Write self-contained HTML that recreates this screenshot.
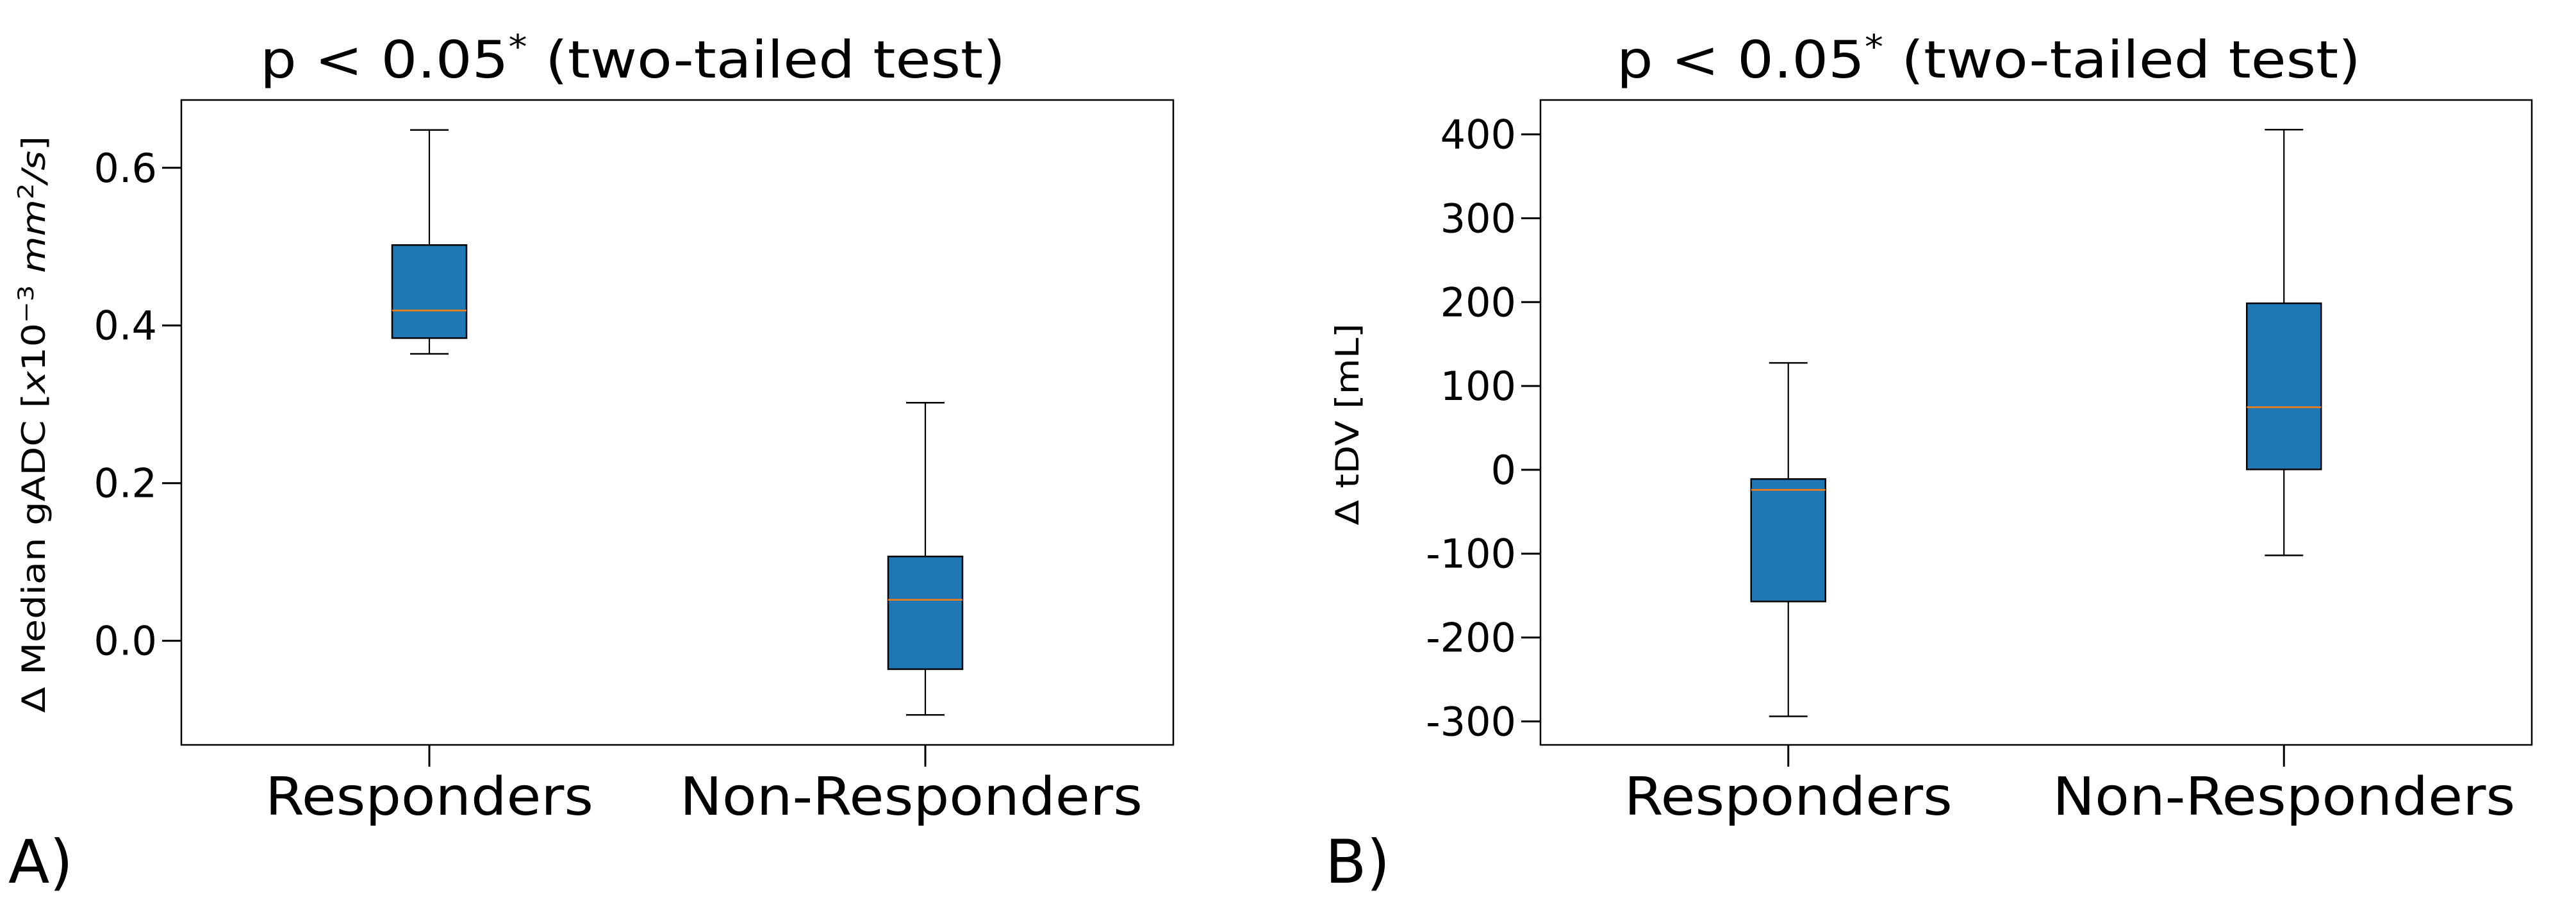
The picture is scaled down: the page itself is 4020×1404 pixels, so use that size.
<!DOCTYPE html>
<html><head><meta charset="utf-8"><style>
html,body{margin:0;padding:0;background:#fff;}
svg{display:block;font-family:"DejaVu Sans","Liberation Sans",sans-serif;}
</style></head><body>
<svg id="fig" width="4020" height="1404" viewBox="0 0 4020 1404" xmlns="http://www.w3.org/2000/svg"></svg>
<script>
const categories = ["Responders", "Non-Responders"];
// Panel A: delta median gADC
const aWhiskerHigh = [0.648, 0.302];
const aQ3 = [0.502, 0.107];
const aMedian = [0.419, 0.052];
const aQ1 = [0.384, -0.036];
const aWhiskerLow = [0.364, -0.094];
const aTicks = [0.0, 0.2, 0.4, 0.6];
const aTickLabels = ["0.0", "0.2", "0.4", "0.6"];
// Panel B: delta tDV
const bWhiskerHigh = [127.5, 405.6];
const bQ3 = [-11, 198.6];
const bMedian = [-24, 74.7];
const bQ1 = [-157, 0.5];
const bWhiskerLow = [-294, -102];
const bTicks = [-300, -200, -100, 0, 100, 200, 300, 400];
const bTickLabels = ["-300", "-200", "-100", "0", "100", "200", "300", "400"];

const NS = "http://www.w3.org/2000/svg";
const svg = document.getElementById("fig");
function mk(tag, attrs, parent) {
  const e = document.createElementNS(NS, tag);
  for (const k in attrs) e.setAttribute(k, attrs[k]);
  (parent || svg).appendChild(e);
  return e;
}
const xLabelW = {"Responders": 512, "Non-Responders": 722};

function panel(cfg) {
  const g = mk("g", {});
  
  
  const L = cfg.left, R = cfg.right, T = 156, B = 1162;
  const yScale = v => B - (v - cfg.ymin) / (cfg.ymax - cfg.ymin) * (B - T);
  const xScale = i => L + (R - L) * (0.25 + 0.5 * i);
  const frame = mk("rect", {x: L, y: T, width: R - L, height: B - T, fill: "none", stroke: "#000", "stroke-width": 2.5}, g);
  
  
  cfg.ticks.forEach((v, i) => {
    const y = yScale(v);
    const t = mk("line", {x1: L - 30, x2: L, y1: y, y2: y, stroke: "#000", "stroke-width": 3}, g);
    
    
    const tl = mk("text", {x: L - 38, y: y + 22, "font-size": 62, "text-anchor": "end", fill: "#000"}, g);
    tl.textContent = cfg.tickLabels[i];
    
    
  });
  const bw = 116;
  categories.forEach((c, i) => {
    const x = xScale(i);
    const t = mk("line", {x1: x, x2: x, y1: B, y2: B + 34, stroke: "#000", "stroke-width": 3}, g);
    
    
    const xl = mk("text", {x: x - xLabelW[c] / 2 + cfg.labelShift[i], y: 1271, "font-size": 82, fill: "#000", textLength: xLabelW[c], lengthAdjust: "spacingAndGlyphs"}, g);
    xl.textContent = c;
    
    

    const bx = mk("g", {}, g);
    
    
    const hi = yScale(cfg.wh[i]), q3 = yScale(cfg.q3[i]), md = yScale(cfg.med[i]), q1 = yScale(cfg.q1[i]), lo = yScale(cfg.wl[i]);
    const w1 = mk("line", {x1: x, x2: x, y1: hi, y2: q3, stroke: "#000", "stroke-width": 2.2}, bx);
    
    
    const w2 = mk("line", {x1: x, x2: x, y1: q1, y2: lo, stroke: "#000", "stroke-width": 2.2}, bx);
    
    
    const c1 = mk("line", {x1: x - 30, x2: x + 30, y1: hi, y2: hi, stroke: "#000", "stroke-width": 2.5}, bx);
    
    
    const c2 = mk("line", {x1: x - 30, x2: x + 30, y1: lo, y2: lo, stroke: "#000", "stroke-width": 2.5}, bx);
    
    
    const r = mk("rect", {x: x - bw / 2, y: q3, width: bw, height: q1 - q3, fill: "#1f77b4", stroke: "#000", "stroke-width": 2.5}, bx);
    
    
    const m = mk("line", {x1: x - bw / 2, x2: x + bw / 2, y1: md, y2: md, stroke: "#ff7f0e", "stroke-width": 2.5}, bx);
    
    
  });
  const title = mk("text", {x: cfg.titleX, y: 121, "font-size": 80, fill: "#000", textLength: cfg.titleW, lengthAdjust: "spacingAndGlyphs"}, g);
  title.innerHTML = 'p &lt; 0.05<tspan dy="-30" font-size="52">*</tspan><tspan dy="30">  (two-tailed test)</tspan>';
  
  
  const yl = mk("text", {x: 0, y: 0, "font-size": 50, "text-anchor": "middle", fill: "#000", transform: "translate(" + cfg.ylabX + "," + cfg.ylabY + ") rotate(-90)", textLength: cfg.ylabW, lengthAdjust: "spacingAndGlyphs"}, g);
  yl.innerHTML = cfg.ylab;
  
  
  const pl = mk("text", {x: cfg.letterX, y: 1377, "font-size": 94, fill: "#000"}, g);
  pl.textContent = cfg.letter;
  
  
}

panel({name: "panel-a", left: 283, right: 1831, ymin: -0.132, ymax: 0.686,
  ticks: aTicks, tickLabels: aTickLabels, wh: aWhiskerHigh, q3: aQ3, med: aMedian, q1: aQ1, wl: aWhiskerLow,
  labelShift: [0, -22],
  titleX: 406, titleW: 1163, ylabX: 70, ylabY: 662, ylabW: 900,
  ylab: 'Δ Median gADC [<tspan font-style="italic">x</tspan>10<tspan dy="-18" font-size="34">−3</tspan><tspan dy="18"> </tspan><tspan font-style="italic">mm</tspan><tspan dy="-18" font-size="34">2</tspan><tspan dy="18" font-style="italic">/s</tspan>]',
  letter: "A)", letterX: 13});
panel({name: "panel-b", left: 2404, right: 3951, ymin: -328, ymax: 441,
  ticks: bTicks, tickLabels: bTickLabels, wh: bWhiskerHigh, q3: bQ3, med: bMedian, q1: bQ1, wl: bWhiskerLow,
  labelShift: [0, 0],
  titleX: 2523, titleW: 1161, ylabX: 2120, ylabY: 662, ylabW: 315,
  ylab: 'Δ tDV [mL]',
  letter: "B)", letterX: 2068});
</script>
</body></html>
